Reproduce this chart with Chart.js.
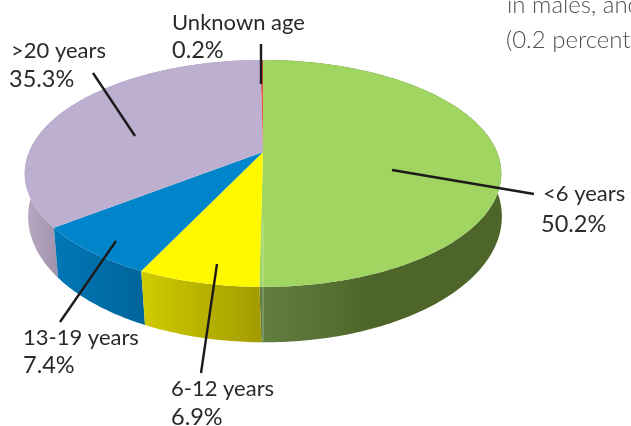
<!DOCTYPE html>
<html>
  <head>
    <meta charset="utf-8">
    <title>Age at diagnosis</title>
    <script src="https://cdn.jsdelivr.net/npm/chart.js@4"></script>
    <style>
      body { margin: 0; background: #fff; overflow: hidden; }
      canvas { display: block; }
    </style>
  </head>
  <body>
    <canvas id="myChart" width="631" height="426"></canvas>
    <script>
      // values, clockwise from 12 o'clock
      const categories = ['<6 years', '6-12 years', '13-19 years', '>20 years', 'Unknown age'];
      const shares = [50.2, 6.9, 7.4, 35.3, 0.2];

      const topColors = ['#a0d562', '#fff900', '#0085cb', '#bdafd0', '#e2584c'];
      // wall shading per slice: left x, right x, left colour, right colour
      const wallShades = [
        [260, 372, '#627f40', '#4e652a'],
        [141, 262, '#d0cb00', '#a29b00'],
        [55, 144, '#0077b6', '#00659b'],
        [25, 58, '#b8aac2', '#a291ac'],
        [255, 265, '#a03a32', '#a03a32']
      ];

      // perspective of the disc: top face and bottom face
      const topFace = { cx: 263, cy: 152, rx: 234, ry: 109.4, k: 0.189 };
      const bottomFace = { cx: 265, cy: 194, rx: 233, ry: 121.6, k: 0.18 };

      // label anchors and leader lines, same order as categories
      const labelSpots = [[543, 201, 541, 232], [171, 396, 171, 425], [23, 345, 23, 373], [11, 58, 9, 87], [172, 30, 172, 58]];
      const leaders = [[392, 170, 534, 194], [217, 264, 201, 373], [116, 241, 60, 322], [93, 73, 135, 136], [261, 44, 261, 84]];

      const project = (face, a) => {
        const u = Math.cos(a), v = Math.sin(a);
        const d = 1 - face.k * v;
        return [face.cx + face.rx * u / d, face.cy + face.ry * v / d];
      };

      const arcSteps = (a0, a1) => {
        const n = Math.max(2, Math.ceil((a1 - a0) / 0.015));
        const out = [];
        for (let i = 0; i <= n; i++) out.push(a0 + (a1 - a0) * i / n);
        return out;
      };

      // replaces the flat arcs with a tilted, extruded disc, angles still come from the pie controller
      const tiltedPie = {
        id: 'tiltedPie',
        beforeDatasetDraw(chart, args) {
          const ctx = chart.ctx;
          const arcs = args.meta.data;

          // walls, back slices first
          const order = arcs.map((_, i) => i).sort((a, b) => {
            const mid = e => Math.sin((e.startAngle + e.endAngle) / 2);
            return mid(arcs[a]) - mid(arcs[b]);
          });
          order.forEach(i => {
            const angles = arcSteps(arcs[i].startAngle, arcs[i].endAngle);
            const shade = wallShades[i];
            const grad = ctx.createLinearGradient(shade[0], 0, shade[1], 0);
            grad.addColorStop(0, shade[2]);
            grad.addColorStop(1, shade[3]);
            ctx.beginPath();
            angles.forEach((a, j) => {
              const p = project(topFace, a);
              if (j === 0) ctx.moveTo(p[0], p[1]); else ctx.lineTo(p[0], p[1]);
            });
            angles.slice().reverse().forEach(a => {
              const p = project(bottomFace, a);
              ctx.lineTo(p[0], p[1]);
            });
            ctx.closePath();
            ctx.fillStyle = grad;
            ctx.fill();
          });

          // top face
          arcs.forEach((arc, i) => {
            ctx.beginPath();
            ctx.moveTo(topFace.cx, topFace.cy);
            arcSteps(arc.startAngle, arc.endAngle).forEach(a => {
              const p = project(topFace, a);
              ctx.lineTo(p[0], p[1]);
            });
            ctx.closePath();
            ctx.fillStyle = arc.options.backgroundColor;
            ctx.fill();
          });

          // pale seam running down the front of the green slice
          const front = project(topFace, Math.PI / 2);
          ctx.beginPath();
          ctx.moveTo(front[0], topFace.cy + 70);
          ctx.lineTo(front[0], 341);
          ctx.strokeStyle = 'rgba(255,255,255,0.35)';
          ctx.lineWidth = 1;
          ctx.stroke();
          return false;
        },
        afterDraw(chart) {
          const ctx = chart.ctx;
          ctx.strokeStyle = '#1d1a1c';
          ctx.lineWidth = 2.4;
          leaders.forEach(l => {
            ctx.beginPath();
            ctx.moveTo(l[0], l[1]);
            ctx.lineTo(l[2], l[3]);
            ctx.stroke();
          });

          ctx.fillStyle = '#2b2a2b';
          ctx.textAlign = 'left';
          ctx.textBaseline = 'alphabetic';
          categories.forEach((name, i) => {
            const s = labelSpots[i];
            ctx.font = '22px Lato';
            ctx.fillText(name, s[0], s[1]);
            ctx.font = '23.5px Lato';
            ctx.fillText(shares[i].toFixed(1) + '%', s[2], s[3]);
          });

          // running text of the page, cut by the crop
          ctx.fillStyle = '#505052';
          ctx.font = '300 24px Lato';
          ctx.fillText('in males, and', 507, 13);
          ctx.fillText('(0.2 percent', 506, 48);
        }
      };

      new Chart(document.getElementById('myChart').getContext('2d'), {
        type: 'pie',
        data: {
          labels: categories,
          datasets: [{ data: shares, backgroundColor: topColors, borderWidth: 0 }]
        },
        options: {
          responsive: false,
          animation: false,
          plugins: { legend: { display: false }, tooltip: { enabled: false } }
        },
        plugins: [tiltedPie]
      });
    </script>
  </body>
</html>
